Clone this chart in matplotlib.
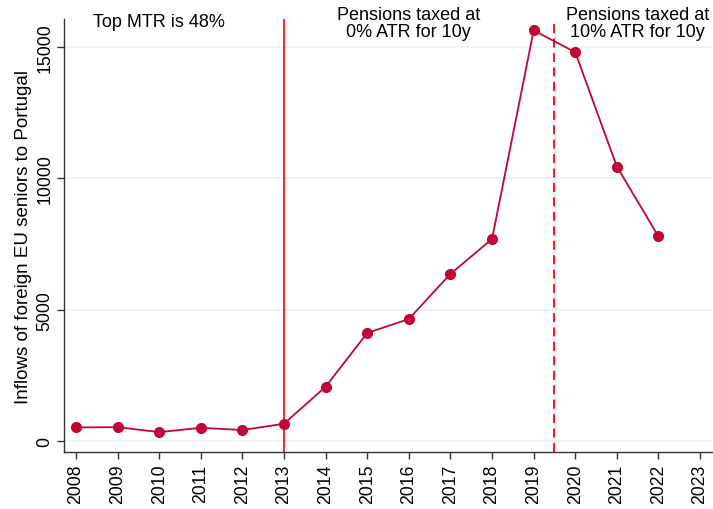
import matplotlib
matplotlib.use("Agg")
import matplotlib.pyplot as plt

plt.rcParams['font.family'] = ['Liberation Sans', 'DejaVu Sans']

years = [2008, 2009, 2010, 2011, 2012, 2013, 2014, 2015, 2016, 2017, 2018, 2019, 2020, 2021, 2022]
inflows = [510, 520, 330, 495, 410, 650, 2060, 4110, 4640, 6360, 7690, 15640, 14810, 10450, 7790]
xticks = list(range(2008, 2024))
yticks = [0, 5000, 10000, 15000]

line_color = '#c10534'
fig = plt.figure(figsize=(7.13, 5.10), dpi=100)
ax = fig.add_axes([0.0902, 0.111, 0.9086, 0.85])

for yv in yticks:
    ax.axhline(yv, color='#eaf2f3', lw=1.2, zorder=0)

ax.axvline(2013, color='#ff0000', lw=1.2, zorder=1)
ax.axvline(2019.5, color='#ff0000', lw=1.3, ls=(0, (5, 3)), zorder=1)

ax.plot(years, inflows, color=line_color, lw=1.3, marker='o', ms=7, zorder=3)

ax.set_xlim(2007.72, 2023.29)
ax.set_ylim(-442, 16080)
ax.set_xticks(xticks)
ax.set_xticklabels([str(x) for x in xticks], rotation=90, fontsize=12.7)
ax.set_yticks(yticks)
ax.set_yticklabels([str(y) for y in yticks], rotation=90, va='center', fontsize=12.7)
ax.tick_params(direction='out', length=5, width=1, color='#333333', pad=3)
ax.set_ylabel('Inflows of foreign EU seniors to Portugal', fontsize=13.5, labelpad=3)

for s in ['top', 'right']:
    ax.spines[s].set_visible(False)
for s in ['left', 'bottom']:
    ax.spines[s].set_linewidth(1)
    ax.spines[s].set_color('#333333')

ax.text(2010, 15990, 'Top MTR is 48%', ha='center', va='center', fontsize=13, clip_on=False)
ax.text(2016, 15930, 'Pensions taxed at\n0% ATR for 10y', ha='center', va='center',
        fontsize=13, linespacing=0.98, clip_on=False)
ax.text(2021.5, 15930, 'Pensions taxed at\n10% ATR for 10y', ha='center', va='center',
        fontsize=13, linespacing=0.98, clip_on=False)

fig.savefig('out.png', dpi=100)
